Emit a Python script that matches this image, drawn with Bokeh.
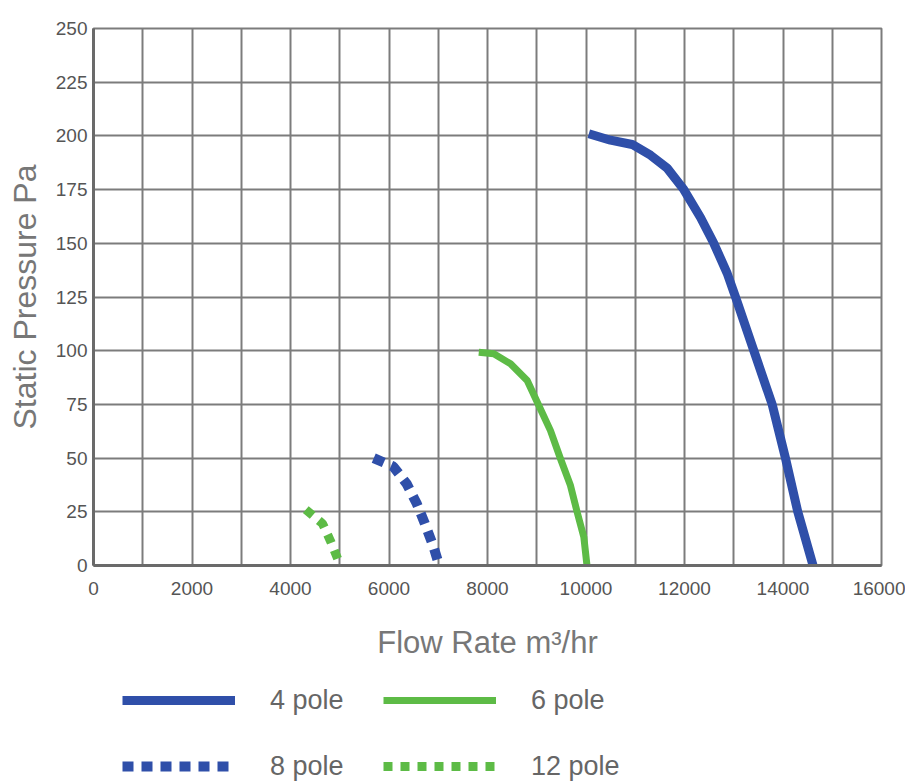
from bokeh.plotting import figure
from bokeh.models import Range1d, FixedTicker, Legend, LegendItem
from bokeh.layouts import column
from bokeh.embed import file_html
from bokeh.resources import INLINE

# ---- data ----
x_ticks = [0, 2000, 4000, 6000, 8000, 10000, 12000, 14000, 16000]
x_grid = list(range(0, 16001, 1000))
y_ticks = [0, 25, 50, 75, 100, 125, 150, 175, 200, 225, 250]

pole4_x = [10057, 10497, 10938, 11310, 11648, 11986, 12325, 12595, 12867, 13036, 13408, 13780, 14050, 14300, 14610]
pole4_y = [201, 198, 196, 191, 185, 175, 162, 150, 136, 125, 100, 75, 50, 25, 0]

pole6_x = [7823, 8128, 8467, 8806, 9042, 9279, 9482, 9685, 9821, 9956, 10020]
pole6_y = [99.3, 98.6, 93.9, 86.1, 74.5, 62.8, 49.7, 37.2, 24.8, 13.2, 0]

pole8_x = [5690, 6090, 6360, 6560, 6720, 6900, 7020]
pole8_y = [50, 46, 38, 29, 20, 9, 0]

pole12_x = [4310, 4650, 4810, 4960, 5020]
pole12_y = [26, 19.5, 11.5, 3, 0]

series_labels = ["4 pole", "6 pole", "8 pole", "12 pole"]

BLUE = "#2f4fa9"
GREEN = "#5dbb46"
GRID = "#7c7c7c"
TEXT = "#666666"
FONT = "Liberation Sans"
NAN = float("nan")

styles = [
    dict(line_color=BLUE, line_width=9, line_cap="butt", line_join="round"),
    dict(line_color=GREEN, line_width=7, line_cap="butt", line_join="round"),
    dict(line_color=BLUE, line_width=10, line_dash="11 8", line_cap="butt"),
    dict(line_color=GREEN, line_width=9, line_dash="9 8", line_cap="butt"),
]

p = figure(width=905, height=665, output_backend="svg", toolbar_location=None,
           x_range=Range1d(0, 16000), y_range=Range1d(0, 250),
           min_border_left=93, min_border_right=24, min_border_top=28,
           min_border_bottom=100)

p.background_fill_color = "white"
p.outline_line_color = GRID
p.outline_line_width = 2

p.xaxis.ticker = FixedTicker(ticks=x_ticks)
p.yaxis.ticker = FixedTicker(ticks=y_ticks)
p.xgrid.ticker = FixedTicker(ticks=x_grid)
p.ygrid.ticker = FixedTicker(ticks=y_ticks)
for g in (p.xgrid, p.ygrid):
    g.grid_line_color = GRID
    g.grid_line_width = 2
    g.grid_line_alpha = 1.0

for ax in (p.xaxis, p.yaxis):
    ax.axis_line_color = "#6a6a6a"
    ax.axis_line_width = 3
    ax.major_tick_line_color = None
    ax.minor_tick_line_color = None
    ax.major_tick_out = 0
    ax.major_tick_in = 0
    ax.major_label_text_font = FONT
    ax.major_label_text_font_size = "19px"
    ax.major_label_text_color = "#555555"
    ax.axis_label_text_font = FONT
    ax.axis_label_text_font_style = "normal"
    ax.axis_label_text_color = "#777777"

p.xaxis.axis_label = "Flow Rate m³/hr"
p.xaxis.axis_label_text_font_size = "31px"
p.xaxis.major_label_standoff = 16
p.xaxis.axis_label_standoff = 27

p.yaxis.axis_label = "Static Pressure Pa"
p.yaxis.axis_label_text_font_size = "32px"
p.yaxis.major_label_standoff = 6
p.yaxis.axis_label_standoff = 10

series = [(pole4_x, pole4_y), (pole6_x, pole6_y), (pole8_x, pole8_y), (pole12_x, pole12_y)]
for (xs, ys), st in zip(series, styles):
    p.line(xs, ys, **st)

# legend panel below the chart
pl = figure(width=905, height=119, output_backend="svg", toolbar_location=None,
            x_range=Range1d(0, 1), y_range=Range1d(0, 1),
            x_axis_location=None, y_axis_location=None,
            min_border_left=0, min_border_right=0, min_border_top=0, min_border_bottom=0)
pl.grid.visible = False
pl.outline_line_color = None
items = []
for lab, st in zip(series_labels, styles):
    r = pl.line([NAN, NAN], [NAN, NAN], **st)
    items.append(LegendItem(label=lab, renderers=[r]))

legend = Legend(items=items, orientation="horizontal", ncols=2, location=(29, 1),
                glyph_width=113, glyph_height=34, label_standoff=35, label_width=81,
                spacing=32, padding=0, margin=0,
                label_text_font=FONT, label_text_font_size="27px", label_text_color=TEXT,
                border_line_color=None, background_fill_alpha=0)
pl.add_layout(legend, "center")

open("out.html", "w").write(file_html(column(p, pl, spacing=0), INLINE))
